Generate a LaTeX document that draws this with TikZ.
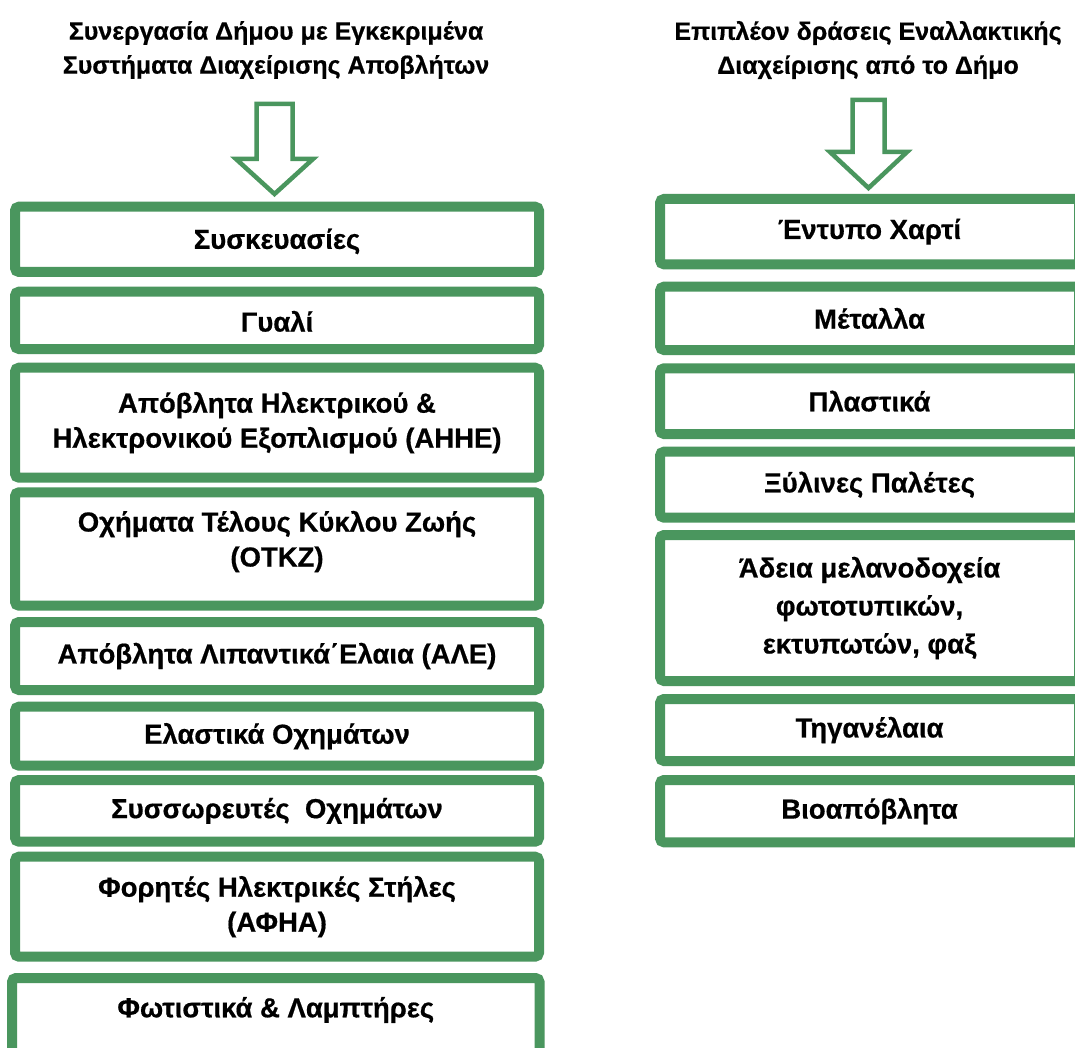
\documentclass[tikz,border=0pt]{standalone}
\usepackage{fontspec}
\setmainfont{Liberation Sans}[BoldFeatures={FakeBold=0.6}]
\definecolor{gr}{RGB}{74,150,94}
\begin{document}
\begin{tikzpicture}[x=1pt,y=-1pt,
  gbox/.style={draw=gr, line width=10pt, rounded corners=4pt, fill=white, inner sep=0pt,
    align=center, font=\fontsize{27.5}{35}\selectfont\bfseries},
  lbox/.style={gbox, minimum width=524pt},
  rbox/.style={gbox, minimum width=419pt},
  head/.style={align=center, inner sep=0pt, font=\fontsize{25}{34}\selectfont\bfseries},
  barrow/.style={draw=gr, line width=4.5pt, fill=white, line join=miter}]
\clip (0,0) rectangle (1075,1048);
\fill[white] (0,0) rectangle (1075,1048);

% headings
\node[head] (hl) at (276,50) {Συνεργασία Δήμου με Εγκεκριμένα\\Συστήματα Διαχείρισης Αποβλήτων};
\node[head] (hr) at (868,50) {Επιπλέον δράσεις Εναλλακτικής\\Διαχείρισης από το Δήμο};

% block arrows
\coordinate (al) at (274.5,0);
\draw[barrow] ([xshift=-18pt]al |- 0,104) -- ([xshift=18pt]al |- 0,104) -- ([xshift=18pt]al |- 0,159)
  -- ([xshift=38.5pt]al |- 0,159) -- (al |- 0,194) -- ([xshift=-38.5pt]al |- 0,159)
  -- ([xshift=-18pt]al |- 0,159) -- cycle;
\coordinate (ar) at (868.5,0);
\draw[barrow] ([xshift=-16pt]ar |- 0,100) -- ([xshift=16pt]ar |- 0,100) -- ([xshift=16pt]ar |- 0,152)
  -- ([xshift=38.5pt]ar |- 0,152) -- (ar |- 0,188) -- ([xshift=-38.5pt]ar |- 0,152)
  -- ([xshift=-16pt]ar |- 0,152) -- cycle;

% left column
\node[lbox, minimum height=65.3pt] (l1) at (277,239.35) {\raisebox{-2pt}[\height][\depth]{Συσκευασίες}};
\node[lbox, minimum height=57.3pt] (l2) at (277,320.35) {\raisebox{-1pt}[\height][\depth]{Γυαλί}};
\node[lbox, minimum height=110pt] (l3) at (277,422.7) {Απόβλητα Ηλεκτρικού \&\\Ηλεκτρονικού Εξοπλισμού (ΑΗΗΕ)};
\node[lbox, minimum height=113.4pt] (l4) at (277,549) {\raisebox{7pt}[\height][\depth]{\begin{tabular}{@{}c@{}}Οχήματα Τέλους Κύκλου Ζωής\\(OTKZ)\end{tabular}}};
\node[lbox, minimum height=68pt] (l5) at (277,656) {Απόβλητα Λιπαντικά΄Ελαια (ΑΛΕ)};
\node[lbox, minimum height=59pt] (l6) at (277,736.2) {Ελαστικά Οχημάτων};
\node[lbox, minimum height=61.7pt] (l7) at (277,810.85) {Συσσωρευτές~ Οχημάτων};
\node[lbox, minimum height=100pt] (l8) at (277,906.7) {Φορητές Ηλεκτρικές Στήλες\\(ΑΦΗΑ)};
\node[gbox, minimum width=527.5pt, minimum height=122pt] (l9) at (275.75,1039) {\raisebox{29pt}[\height][\depth]{Φωτιστικά \& Λαμπτήρες}};

% right column
\node[rbox, minimum height=65.3pt] (r1) at (869.5,231.65) {Έντυπο Χαρτί};
\node[rbox, minimum height=63.3pt] (r2) at (869.5,318.35) {Μέταλλα};
\node[rbox, minimum height=65.7pt] (r3) at (869.5,401.15) {Πλαστικά};
\node[rbox, minimum height=66pt] (r4) at (869.5,484.7) {Ξύλινες Παλέτες};
\node[rbox, minimum height=146pt, font=\fontsize{27.5}{38}\selectfont\bfseries] (r5) at (869.5,608) {Άδεια μελανοδοχεία\\φωτοτυπικών,\\εκτυπωτών, φαξ};
\node[rbox, minimum height=62pt] (r6) at (869.5,730) {Τηγανέλαια};
\node[rbox, minimum height=62.3pt] (r7) at (869.5,811.15) {Βιοαπόβλητα};
\end{tikzpicture}
\end{document}
